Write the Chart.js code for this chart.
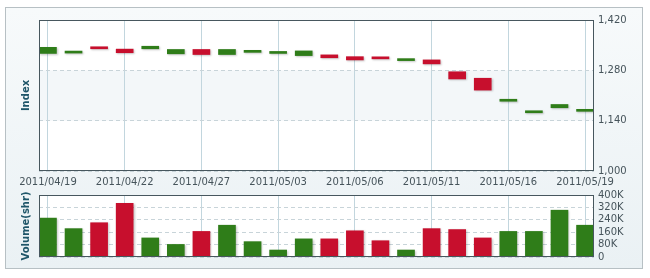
<!DOCTYPE html>
<html>
<head>
<meta charset="utf-8">
<script src="https://cdn.jsdelivr.net/npm/chart.js@4"></script>
<style>
  html, body { margin: 0; padding: 0; background: #fff; }
  #wrap { position: relative; width: 650px; height: 278px; overflow: hidden; }
  #panel {
    position: absolute; left: 5px; top: 7px; width: 636px; height: 260px;
    border: 1px solid #b7c0c4;
    background: linear-gradient(#f7fafb, #eaf1f4);
  }
  canvas { position: absolute; left: 0; }
  #price { top: 0; }
  #volume { top: 185px; }
</style>
</head>
<body>
<div id="wrap">
  <div id="panel"></div>
  <canvas id="price" width="650" height="190"></canvas>
  <canvas id="volume" width="650" height="93"></canvas>
</div>
<script>
const dates = ["2011/04/19", "2011/04/20", "2011/04/21", "2011/04/22", "2011/04/25", "2011/04/26",
  "2011/04/27", "2011/04/28", "2011/04/29", "2011/05/03", "2011/05/04", "2011/05/05",
  "2011/05/06", "2011/05/09", "2011/05/10", "2011/05/11", "2011/05/12", "2011/05/13",
  "2011/05/16", "2011/05/17", "2011/05/18", "2011/05/19"];
const opens  = [1327, 1328, 1342, 1339, 1340, 1326, 1338, 1324, 1330, 1327, 1321, 1323,
  1318, 1317, 1307, 1309, 1276, 1258, 1194, 1162, 1176, 1166];
const closes = [1344, 1330, 1340, 1329, 1347, 1338, 1324, 1338, 1334, 1329, 1334, 1315,
  1309, 1312, 1309, 1298, 1256, 1225, 1196, 1164, 1185, 1168];
const volumes = [251000, 183000, 221000, 347000, 123000, 81000, 165000, 205000, 99000, 45000, 117000, 117000,
  169000, 105000, 45000, 183000, 177000, 123000, 165000, 165000, 302000, 205000];
const labelIdx = [0, 3, 6, 9, 12, 15, 18, 21];
const priceTicks = [1000, 1140, 1280, 1420];
const volTicks = [0, 80000, 160000, 240000, 320000, 400000];

const GREEN = '#2f7d19', RED = '#c70f2d';
const colors = opens.map((o, i) => closes[i] >= opens[i] ? GREEN : RED);
const font = { family: 'DejaVu Sans', size: 10 };
const titleFont = { family: 'DejaVu Sans', size: 10, weight: 'bold' };

const frame = {
  id: 'frame',
  beforeDraw(chart, args, opts) {
    const { ctx, chartArea: a } = chart;
    ctx.save();
    ctx.fillStyle = '#ffffff';
    ctx.fillRect(a.left, a.top, a.width, a.height);
    if (opts.band) {
      const y = chart.scales.y;
      const t = y.getPixelForValue(opts.band[1]), b = y.getPixelForValue(opts.band[0]);
      ctx.fillStyle = '#f3f7f9';
      ctx.fillRect(a.left, t, a.width, b - t);
    }
    ctx.restore();
  },
  beforeDatasetsDraw(chart) {
    const ctx = chart.ctx;
    ctx.save();
    ctx.shadowColor = 'rgba(0,0,0,0.22)';
    ctx.shadowOffsetX = 1;
    ctx.shadowOffsetY = 1;
    ctx.shadowBlur = 2;
  },
  afterDatasetsDraw(chart) {
    chart.ctx.restore();
  },
  afterDraw(chart) {
    const { ctx, chartArea: a } = chart;
    ctx.save();
    ctx.strokeStyle = '#47575e';
    ctx.lineWidth = 1;
    ctx.strokeRect(Math.round(a.left) + 0.5, Math.round(a.top) + 0.5,
      Math.round(a.width) - 1, Math.round(a.height) - 1);
    ctx.restore();
  }
};

function xScale(showLabels, height) {
  return {
    type: 'linear', min: -0.35, max: 21.35, offset: false,
    afterBuildTicks: s => { s.ticks = labelIdx.map(v => ({ value: v })); },
    afterFit: s => { s.height = height; },
    grid: { color: '#c2d6de', drawTicks: false, offset: false },
    border: { display: false },
    ticks: {
      display: showLabels, autoSkip: false, maxRotation: 0, padding: 5,
      color: '#46545b', font,
      callback: v => dates[v]
    }
  };
}

function leftTitle(text) {
  return {
    type: 'linear', position: 'left', display: true,
    afterFit: s => { s.width = 39; },
    grid: { display: false }, border: { display: false },
    ticks: { display: false },
    title: { display: true, text, color: '#1f5669', font: titleFont, padding: { top: 20, bottom: 0 } }
  };
}

function yScale(lo, hi, list, fmt) {
  return {
    position: 'right', min: lo, max: hi,
    afterBuildTicks: s => { s.ticks = list.map(v => ({ value: v })); },
    afterFit: s => { s.width = 56; },
    grid: { color: '#c8d4d9', drawTicks: false },
    border: { display: false, dash: [4, 3] },
    ticks: { autoSkip: false, padding: 4, color: '#46545b', font, callback: fmt }
  };
}

new Chart(document.getElementById('price'), {
  type: 'bar',
  data: {
    datasets: [{
      data: dates.map((d, i) => ({ x: i, y: [opens[i], closes[i]] })),
      backgroundColor: colors,
      barThickness: 17,
      minBarLength: 2
    }]
  },
  options: {
    responsive: false, animation: false,
    layout: { padding: { top: 20, right: 0, left: 0, bottom: 0 } },
    plugins: { legend: { display: false }, tooltip: { enabled: false }, frame: { band: [1140, 1280] } },
    scales: {
      x: xScale(true, 19),
      y: yScale(1000, 1420, priceTicks, v => v.toLocaleString('en-US')),
      t: leftTitle('Index')
    }
  },
  plugins: [frame]
});

new Chart(document.getElementById('volume'), {
  type: 'bar',
  data: {
    datasets: [{
      data: dates.map((d, i) => ({ x: i, y: volumes[i] })),
      backgroundColor: colors,
      barThickness: 17
    }]
  },
  options: {
    responsive: false, animation: false,
    layout: { padding: { top: 6, right: 0, left: 0, bottom: 0 } },
    plugins: { legend: { display: false }, tooltip: { enabled: false }, frame: {} },
    scales: {
      x: xScale(false, 21),
      y: yScale(0, 400000, volTicks, v => v === 0 ? '0' : (v / 1000) + 'K'),
      t: leftTitle('Volume(shr)')
    }
  },
  plugins: [frame]
});
</script>
</body>
</html>
